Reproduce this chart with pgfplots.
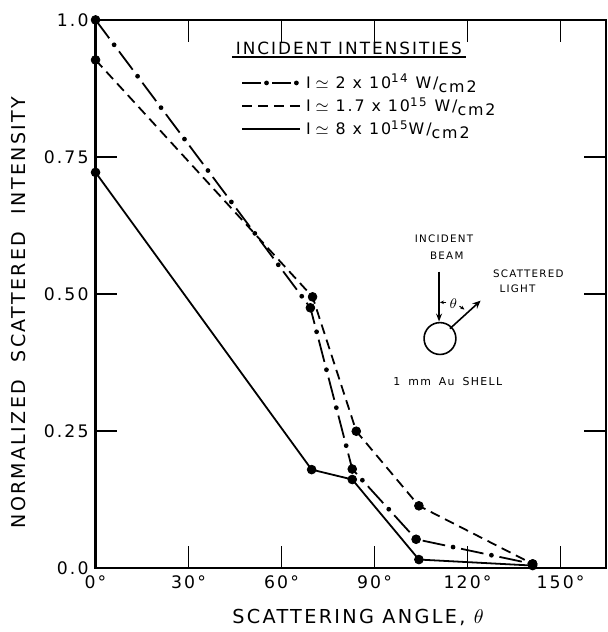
\documentclass[border=0pt]{standalone}
\usepackage{fontspec}
\setmainfont{DejaVu Sans}[LetterSpace=12]
\usepackage{pgfplots}
\pgfplotsset{compat=1.18}
\usetikzlibrary{arrows.meta}

\begin{document}
\begin{tikzpicture}
\begin{axis}[
  scale only axis, width=256.5bp, height=275.5bp,
  xmin=0, xmax=164.7, ymin=0, ymax=1,
  xtick={0,30,60,90,120,150},
  xticklabels={0°,30°,60°,90°,120°,150°},
  ytick={0,0.25,0.5,0.75,1},
  yticklabels={0.0,0.25,0.50,0.75,1.0},
  tick align=inside, major tick length=11bp,
  every tick/.style={black, line width=0.8bp},
  axis line style={line width=1.1bp},
  ticklabel style={font=\fontsize{8.7}{9}\selectfont},
  xlabel={SCATTERING ANGLE, $\theta$},
  ylabel={NORMALIZED\hspace{0.5em} SCATTERED\hspace{0.5em} INTENSITY},
  every axis x label/.style={at={(axis description cs:0.514,-0.089)}, anchor=center, font=\fontsize{9.7}{12}\selectfont},
  every axis y label/.style={at={(axis description cs:-0.150,0.466)}, anchor=center, rotate=90, font=\fontsize{9.6}{11}\selectfont},
  legend style={draw=none, fill=none, at={(axis description cs:0.27,0.916)}, anchor=north west,
    font=\fontsize{8}{9}\selectfont, row sep=-1bp, cells={anchor=west}},
  legend image code/.code={\draw[#1] (0bp,0bp) -- (29bp,0bp);},
]
% legend images
\addlegendimage{black, line width=0.9bp, dash pattern=on 9.5bp off 5.5bp,
  postaction={draw, line width=2.4bp, line cap=round, dash pattern=on 0bp off 15bp, dash phase=2.75bp}}
\addlegendentry{$\mathrm{I}\simeq$ 2 x 10\textsuperscript{14} W/\raisebox{-.4ex}{cm2}}
\addlegendimage{black, line width=0.9bp, dash pattern=on 5bp off 3bp}
\addlegendentry{$\mathrm{I}\simeq$ 1.7 x 10\textsuperscript{15} W/\raisebox{-.4ex}{cm2}}
\addlegendimage{black, line width=0.9bp}
\addlegendentry{$\mathrm{I}\simeq$ 8 x 10\textsuperscript{15}W/\raisebox{-.4ex}{cm2}}

% I = 2e14 W/cm2 (dash-dot)
\addplot[black, line width=0.9bp, dash pattern=on 11.5bp off 8.2bp, forget plot,
  postaction={draw, line width=2.4bp, line cap=round, dash pattern=on 0bp off 19.7bp, dash phase=4.1bp}]
  coordinates {(0,1.0) (69.3,0.475) (82.8,0.181) (103.4,0.053) (141,0.008)};
% I = 1.7e15 W/cm2 (dashed)
\addplot[black, line width=0.9bp, dash pattern=on 5bp off 3bp, forget plot]
  coordinates {(0,0.927) (70,0.495) (84.1,0.250) (104.3,0.114) (141,0.008)};
% I = 8e15 W/cm2 (solid)
\addplot[black, line width=0.9bp, forget plot]
  coordinates {(0,0.722) (69.7,0.180) (82.8,0.162) (104.3,0.016) (141,0.005)};

% data points
\addplot[only marks, mark=*, mark size=2.2bp, black, forget plot]
  coordinates {(0,1.0) (69.3,0.475) (82.8,0.181) (103.4,0.053) (141,0.008)};
\addplot[only marks, mark=*, mark size=2.2bp, black, forget plot]
  coordinates {(0,0.927) (70,0.495) (84.1,0.250) (104.3,0.114) (141,0.008)};
\addplot[only marks, mark=*, mark size=2.2bp, black, forget plot]
  coordinates {(0,0.722) (69.7,0.180) (82.8,0.162) (104.3,0.016) (141,0.005)};

% legend title
\node[font=\fontsize{8.5}{10}\selectfont] at (axis cs:81.7,0.949) {INCIDENT INTENSITIES};
\draw[line width=1bp] (axis cs:44,0.933) -- (axis cs:119.4,0.933);

% sketch
\begin{scope}[font=\fontsize{5.2}{6}\selectfont]
\node at (axis cs:112.4,0.601) {INCIDENT};
\node at (axis cs:113.3,0.570) {BEAM};
\node at (axis cs:139.6,0.537) {SCATTERED};
\node at (axis cs:136.1,0.510) {LIGHT};
\node[font=\fontsize{5.5}{6}\selectfont] at (axis cs:113.6,0.341) {1\hspace{0.3em} mm\hspace{0.3em} Au\hspace{0.3em} SHELL};
\end{scope}
\draw[line width=0.8bp, -{Stealth[length=4bp,width=3bp]}] (axis cs:110.8,0.541) -- (axis cs:110.8,0.450);
\draw[line width=0.8bp] (axis cs:111.1,0.419) circle[radius=8bp];
\draw[line width=0.8bp, -{Stealth[length=4bp,width=3.5bp]}] (axis cs:114.3,0.437) -- (axis cs:124.2,0.488);
\node[font=\fontsize{7}{8}\selectfont] at (axis cs:115.4,0.483) {$\theta$};
\draw[line width=0.5bp, -{Stealth[length=2bp,width=1.8bp]}] (axis cs:113.2,0.485) -- (axis cs:111.1,0.485);
\draw[line width=0.5bp, -{Stealth[length=2bp,width=1.8bp]}] (axis cs:117.4,0.478) -- (axis cs:119.0,0.472);

\coordinate (boxsw) at (rel axis cs:0,0);
\coordinate (boxne) at (rel axis cs:1,1);
\end{axis}
\path ([shift={(-48bp,-30.5bp)}]boxsw) rectangle ([shift={(0.5bp,10bp)}]boxne);
\end{tikzpicture}
\end{document}
